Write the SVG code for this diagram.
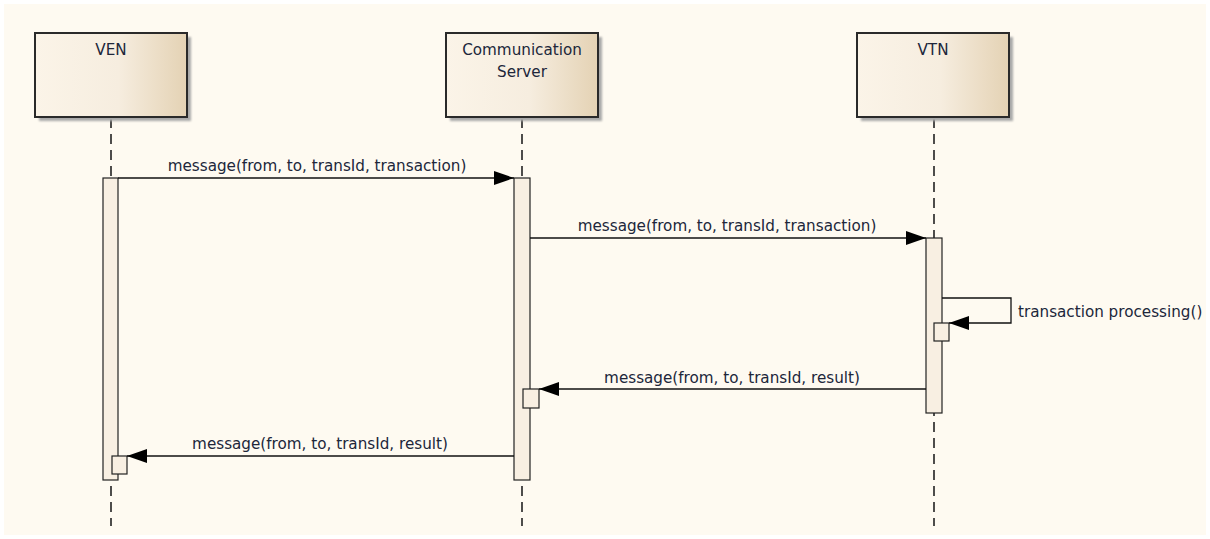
<svg xmlns="http://www.w3.org/2000/svg" width="1210" height="539" viewBox="0 0 1210 539">
  <defs>
    <linearGradient id="headFill" x1="0" y1="0" x2="1" y2="0">
      <stop offset="0" stop-color="#fbf4e8"/>
      <stop offset="0.55" stop-color="#f6eddf"/>
      <stop offset="1" stop-color="#e4d2b4"/>
    </linearGradient>
    <filter id="shadow" x="-10%" y="-10%" width="130%" height="130%">
      <feGaussianBlur stdDeviation="1.2"/>
    </filter>
    <marker id="arrow" viewBox="0 0 20 14" refX="20" refY="7" markerWidth="20" markerHeight="14" markerUnits="userSpaceOnUse" orient="auto">
      <path d="M0,0 L20,7 L0,14 Z" fill="#000"/>
    </marker>
    <style>
      .label { font-family: "DejaVu Sans", sans-serif; font-size: 15.2px; fill: #20263a; }
      .head { fill: url(#headFill); stroke: #2a2a2a; stroke-width: 2; }
      .shade { fill: #a9a9a9; filter: url(#shadow); }
      .life { stroke: #222; stroke-width: 1.6; stroke-dasharray: 10 6; fill: none; }
      .act { fill: #f8efe2; stroke: #222; stroke-width: 1.2; }
      .msg { stroke: #111; stroke-width: 1.3; fill: none; marker-end: url(#arrow); }
    </style>
  </defs>

  <rect x="4" y="4" width="1202" height="531" fill="#fefaf1"/>

  <!-- lifelines -->
  <g id="lifelines">
    <line class="life" x1="111" y1="118" x2="111" y2="526"/>
    <line class="life" x1="522" y1="118" x2="522" y2="526"/>
    <line class="life" x1="934" y1="118" x2="934" y2="526"/>
  </g>

  <g id="ven">
    <rect class="shade" x="39" y="37" width="152" height="84"/>
    <rect class="head" x="35" y="33" width="152" height="84"/>
    <text class="label" x="111" y="55" text-anchor="middle">VEN</text>
    <rect class="act" x="103" y="178" width="15" height="302"/>
    <rect class="act" x="112" y="456" width="15" height="18"/>
  </g>

  <g id="comm-server">
    <rect class="shade" x="450" y="37" width="152" height="84"/>
    <rect class="head" x="446" y="33" width="152" height="84"/>
    <text class="label" x="522" y="55" text-anchor="middle">Communication</text>
    <text class="label" x="522" y="77" text-anchor="middle">Server</text>
    <rect class="act" x="514" y="178" width="16" height="302"/>
    <rect class="act" x="523" y="389" width="16" height="19"/>
  </g>

  <g id="vtn">
    <rect class="shade" x="861" y="37" width="152" height="84"/>
    <rect class="head" x="857" y="33" width="152" height="84"/>
    <text class="label" x="933" y="55" text-anchor="middle">VTN</text>
    <rect class="act" x="926" y="238" width="16" height="175"/>
    <rect class="act" x="934" y="323" width="15" height="18"/>
  </g>

  <!-- messages -->
  <g id="connectors">
    <line class="msg" x1="118" y1="178" x2="514" y2="178"/>
    <text class="label" x="317" y="171" text-anchor="middle">message(from, to, transId, transaction)</text>

    <line class="msg" x1="530" y1="238" x2="926" y2="238"/>
    <text class="label" x="727" y="231" text-anchor="middle">message(from, to, transId, transaction)</text>

    <polyline class="msg" points="942,298 1011,298 1011,323 949,323"/>
    <text class="label" x="1018" y="317">transaction processing()</text>

    <line class="msg" x1="926" y1="389" x2="539" y2="389"/>
    <text class="label" x="732" y="383" text-anchor="middle">message(from, to, transId, result)</text>

    <line class="msg" x1="514" y1="456" x2="127" y2="456"/>
    <text class="label" x="320" y="449" text-anchor="middle">message(from, to, transId, result)</text>
  </g>
</svg>
